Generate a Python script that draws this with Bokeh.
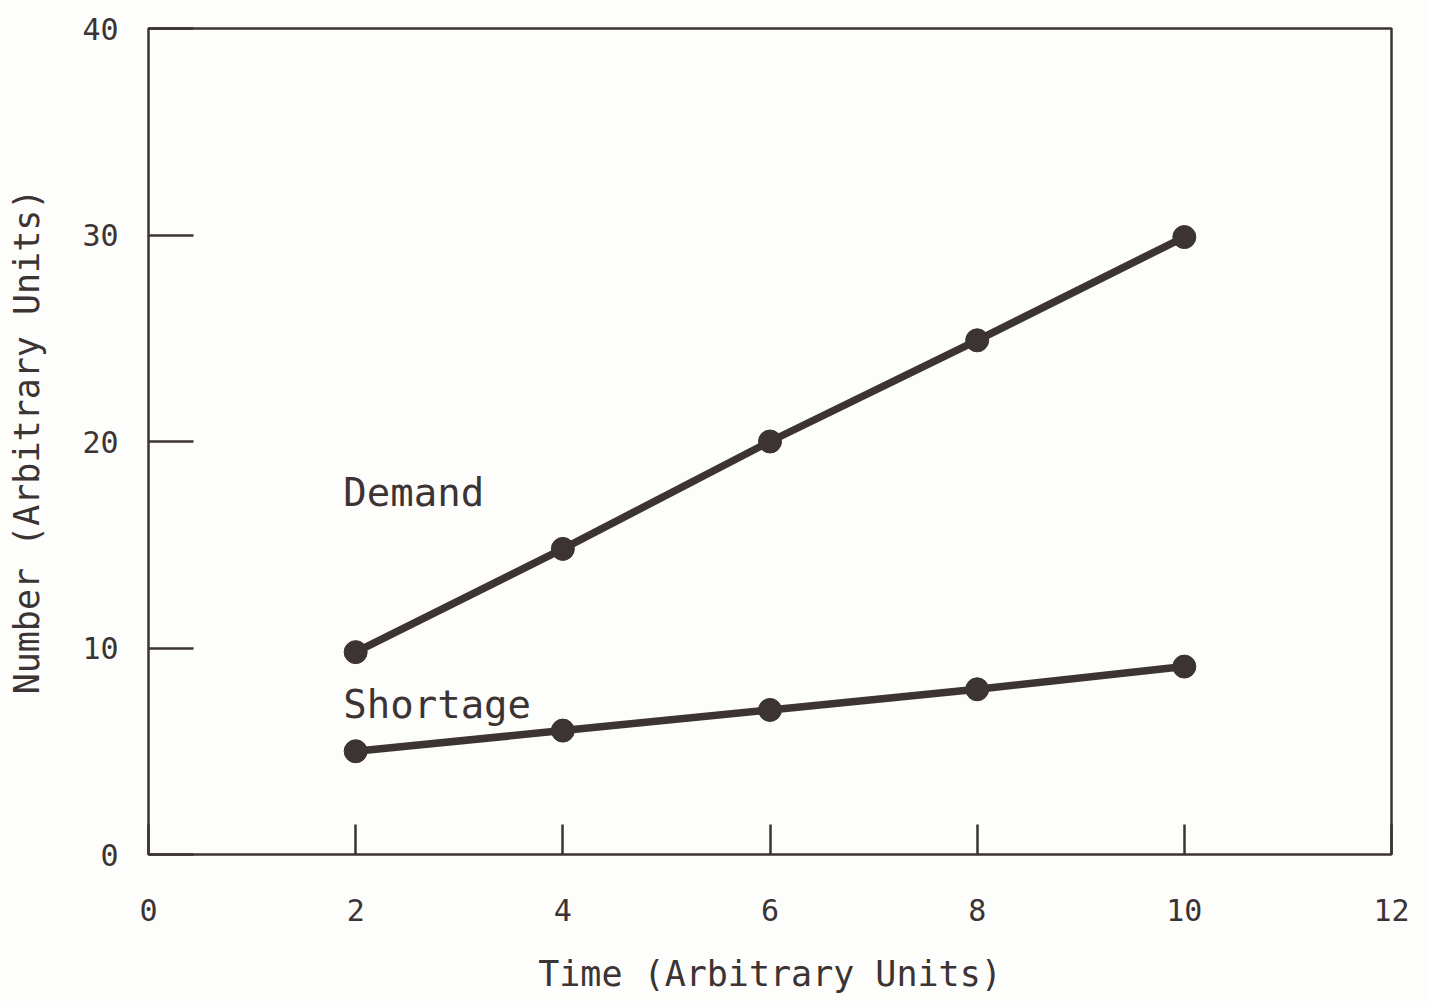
from bokeh.plotting import figure
from bokeh.models import Range1d, FixedTicker, Label
from bokeh.embed import file_html
from bokeh.resources import INLINE

time = [2, 4, 6, 8, 10]
demand = [9.8, 14.8, 20.0, 24.9, 29.9]
shortage = [5.0, 6.0, 7.0, 8.0, 9.1]
x_ticks = [0, 2, 4, 6, 8, 10, 12]
y_ticks = [0, 10, 20, 30, 40]

INK = "#3b3334"
FONT = "DejaVu Sans Mono"

p = figure(width=1429, height=1002, output_backend="svg", toolbar_location=None,
           x_range=Range1d(0, 12), y_range=Range1d(0, 40),
           min_border_left=148, min_border_right=38, min_border_top=28, min_border_bottom=148)
p.background_fill_color = "#fdfdfb"
p.border_fill_color = "#fdfdfb"
p.outline_line_color = INK
p.outline_line_width = 2.5
p.grid.visible = False

p.xaxis.ticker = FixedTicker(ticks=x_ticks)
p.yaxis.ticker = FixedTicker(ticks=y_ticks)
for ax in (p.xaxis[0], p.yaxis[0]):
    ax.axis_line_color = None
    ax.major_tick_out = 0
    ax.minor_tick_line_color = None
    ax.major_tick_line_color = INK
    ax.major_tick_line_width = 2.5
    ax.major_label_text_font = FONT
    ax.major_label_text_font_size = "30px"
    ax.major_label_text_color = INK
    ax.axis_label_text_font = FONT
    ax.axis_label_text_font_style = "normal"
    ax.axis_label_text_color = INK
    ax.axis_label_text_font_size = "35px"
p.xaxis.major_tick_in = 30
p.yaxis.major_tick_in = 45
p.xaxis.major_label_standoff = 44
p.yaxis.major_label_standoff = 30
p.xaxis.axis_label = "Time (Arbitrary Units)"
p.yaxis.axis_label = "Number (Arbitrary Units)"
p.xaxis.axis_label_standoff = 30
p.yaxis.axis_label_standoff = 32

p.line(time, demand, line_color=INK, line_width=7.5)
p.scatter(time, demand, size=23, fill_color=INK, line_color=INK)
p.line(time, shortage, line_color=INK, line_width=7.5)
p.scatter(time, shortage, size=23, fill_color=INK, line_color=INK)

for txt, y in (("Demand", 17.55), ("Shortage", 7.25)):
    p.add_layout(Label(x=1.88, y=y, text=txt, text_font=FONT, text_font_size="39px",
                       text_color=INK, text_baseline="middle"))

open("out.html", "w").write(file_html(p, INLINE))
